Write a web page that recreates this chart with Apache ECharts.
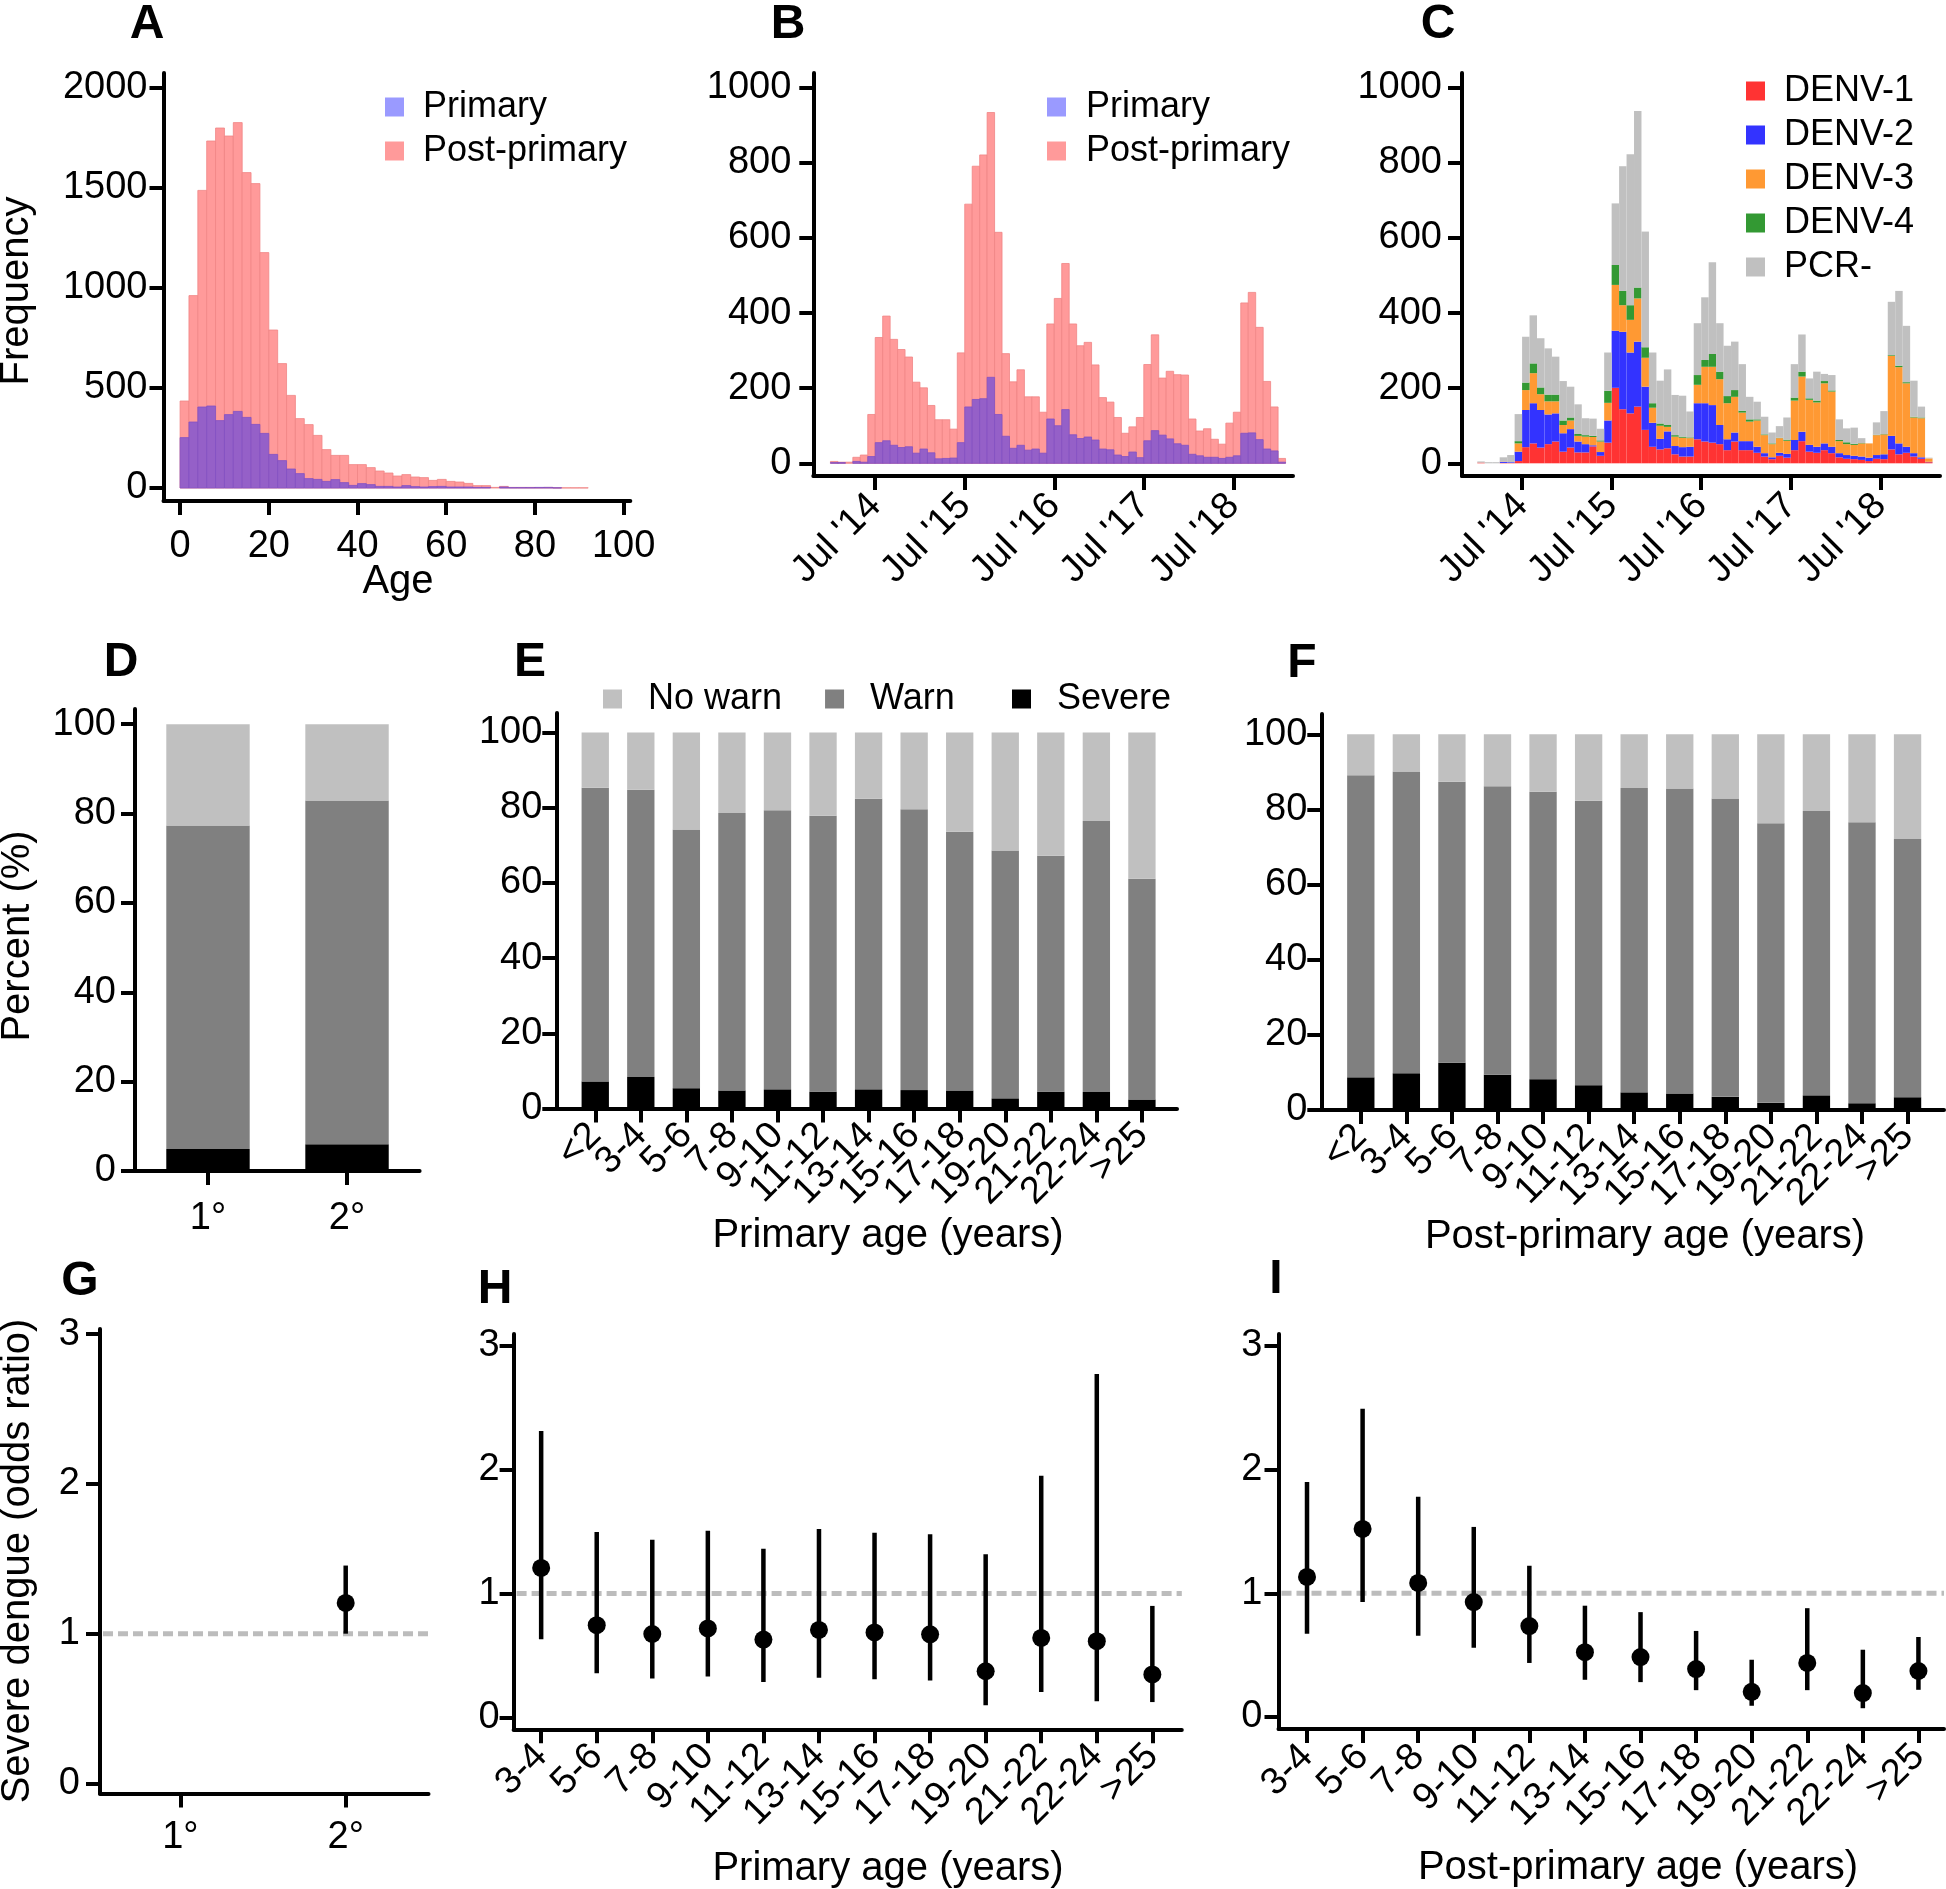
<!DOCTYPE html>
<html><head><meta charset="utf-8">
<script src="https://cdn.jsdelivr.net/npm/echarts@6/dist/echarts.min.js"></script>
<style>html,body{margin:0;padding:0;background:#fff}#c{width:1946px;height:1889px}</style>
</head><body><div id="c"></div>
<script>
// ---------- DATA ----------
// Panel A: age histogram (2-year bins)
const ageBins = [0,2,4,6,8,10,12,14,16,18,20,22,24,26,28,30,32,34,36,38,40,42,44,46,48,50,52,54,56,58,60,62,64,66,68,70,72,74,76,78,80,82,84,86,88,90];
const AGE_BIN = 2;
const agePost = [435,962,1488,1735,1800,1760,1827,1577,1522,1177,790,622,463,347,317,263,192,163,163,117,117,102,85,75,60,67,55,52,38,43,33,30,23,12,12,3,8,3,3,3,2,3,1,1,1,1];
const agePrim = [252,330,405,410,337,367,383,353,318,273,168,137,95,72,47,43,33,42,27,13,22,17,8,8,5,12,7,5,7,8,5,5,5,3,3,0,5,2,2,2,3,3,1,0,0,0];
const ageTicks = [0,20,40,60,80,100];
const freqTicks = [0,500,1000,1500,2000];

// Panels B & C: monthly counts
const months = ['2014-01','2014-02','2014-03','2014-04','2014-05','2014-06','2014-07','2014-08','2014-09','2014-10','2014-11','2014-12',
 '2015-01','2015-02','2015-03','2015-04','2015-05','2015-06','2015-07','2015-08','2015-09','2015-10','2015-11','2015-12',
 '2016-01','2016-02','2016-03','2016-04','2016-05','2016-06','2016-07','2016-08','2016-09','2016-10','2016-11','2016-12',
 '2017-01','2017-02','2017-03','2017-04','2017-05','2017-06','2017-07','2017-08','2017-09','2017-10','2017-11','2017-12',
 '2018-01','2018-02','2018-03','2018-04','2018-05','2018-06','2018-07','2018-08','2018-09','2018-10','2018-11','2018-12','2019-01'];
const monthPost = [5,3,3,16,22,130,335,392,330,303,283,216,201,154,116,116,91,294,690,791,821,934,615,292,217,249,177,177,136,371,439,532,371,313,322,262,175,163,122,80,97,122,263,342,227,245,236,235,118,86,92,64,51,107,136,427,455,362,218,150,13];
const monthPrim = [2,2,0,5,3,18,55,60,48,42,44,27,38,28,12,13,14,55,150,170,172,229,130,72,40,48,35,38,27,118,100,143,76,66,70,62,38,36,22,18,30,15,60,87,75,65,52,48,24,20,16,16,13,16,20,80,81,63,38,33,3];
const denv1 = [2,0,0,1,1,6,43,53,42,51,58,31,42,29,29,45,20,55,201,144,133,151,89,44,37,40,24,18,18,64,58,55,51,35,58,35,35,28,18,11,20,15,35,59,31,28,35,27,16,12,11,9,6,12,11,37,24,28,18,12,3];
const denv2 = [0,0,0,3,2,25,99,107,100,79,75,49,49,29,22,3,10,59,152,206,162,173,115,64,28,45,22,25,26,96,102,100,51,29,24,24,24,16,9,5,8,10,27,25,18,16,18,17,11,10,9,9,9,10,13,36,29,16,9,4,1];
const denv3 = [0,0,0,1,0,22,53,80,42,35,32,22,23,15,20,22,28,47,122,71,87,115,77,40,35,12,25,25,23,49,97,102,122,96,95,76,52,70,48,35,39,35,105,147,120,118,160,147,32,29,29,35,38,53,53,213,203,169,95,104,9];
const denv4 = [0,0,0,0,0,6,20,26,18,18,18,12,8,5,4,3,3,32,53,38,39,29,28,12,6,5,4,3,2,26,18,34,20,19,18,5,6,3,2,2,1,3,8,13,4,5,6,3,3,5,3,1,0,1,1,2,4,3,2,2,0];
const pcrNeg = [3,3,3,11,19,72,122,128,131,123,101,105,82,79,45,46,31,102,164,332,402,470,308,135,114,148,107,109,69,138,167,244,129,134,129,124,60,47,47,29,31,59,89,99,53,77,19,41,55,37,43,13,0,33,61,142,199,150,96,29,2];
const monthTicks = [6,18,30,42,54];
const monthTickLabels = ["Jul '14","Jul '15","Jul '16","Jul '17","Jul '18"];
const countTicks = [0,200,400,600,800,1000];

// Panel D
const dCats = ['1°','2°'];
const dSevere = [4.9,6.0];
const dWarn = [72.4,76.9];
const dNoWarn = [22.7,17.1];
// Panel E (primary by age)
const ageCats = ['<2','3-4','5-6','7-8','9-10','11-12','13-14','15-16','17-18','19-20','21-22','22-24','>25'];
const eSevere = [7.2,8.4,5.4,4.8,5.1,4.5,5.1,4.9,4.8,2.7,4.5,4.4,2.4];
const eWarn = [78.1,76.4,68.8,73.8,74.2,73.4,77.3,74.7,68.8,65.9,62.7,72.1,58.7];
const eNoWarn = [14.7,15.2,25.8,21.4,20.7,22.1,17.6,20.4,26.4,31.4,32.8,23.5,38.9];
// Panel F (post-primary by age)
const fSevere = [8.7,9.8,12.6,9.4,8.2,6.6,4.7,4.4,3.5,1.9,3.9,1.8,3.4];
const fWarn = [80.4,80.3,74.8,76.8,76.5,75.7,81.0,81.2,79.4,74.4,75.7,74.8,68.7];
const fNoWarn = [10.9,9.9,12.6,13.8,15.3,17.7,14.3,14.4,17.1,23.7,20.4,23.4,27.9];
const pctTicks = [0,20,40,60,80,100];

// Panel G
const gOR = [null,1.205];
const gLo = [null,1.0];
const gHi = [null,1.455];
// Panels H & I
const orCats = ['3-4','5-6','7-8','9-10','11-12','13-14','15-16','17-18','19-20','21-22','22-24','>25'];
const hOR = [1.207,0.744,0.673,0.718,0.628,0.706,0.686,0.670,0.372,0.641,0.615,0.346];
const hLo = [0.631,0.356,0.314,0.330,0.285,0.320,0.307,0.298,0.097,0.204,0.129,0.123];
const hHi = [2.314,1.498,1.434,1.508,1.362,1.521,1.492,1.479,1.317,1.951,2.773,0.900];
const iOR = [1.133,1.521,1.084,0.929,0.735,0.524,0.485,0.388,0.204,0.437,0.194,0.372];
const iLo = [0.673,0.929,0.657,0.560,0.437,0.301,0.282,0.217,0.091,0.217,0.071,0.220];
const iHi = [1.900,2.492,1.780,1.537,1.223,0.900,0.848,0.696,0.463,0.880,0.544,0.647];
const orTicks = [0,1,2,3];
const REF_OR = 1;

// ---------- STYLE ----------
const FONT = '"Liberation Sans", Arial, Helvetica, sans-serif';
const AXW = 4;
const TICK_FS = 38;
const C = {pink:'#ff9a9a', pinkEdge:'#f08585', purple:'#9560c8', purpleEdge:'#8350c4', lblue:'#9a9aff',
  d1:'#ff3333', d2:'#3333ff', d3:'#ff9933', d4:'#339933', pcr:'#c0c0c0',
  nowarn:'#c0c0c0', warn:'#808080', severe:'#000000'};
const BAR_W = 0.6;

function xAx(grid, min, max, ticks, fmt, margin, rotate, labelVals) {
  return {type:'value', gridIndex:grid, min, max, position:'bottom',
    axisLine:{show:true, onZero:false, lineStyle:{color:'#000', width:AXW}},
    axisTick:{show:true, customValues:ticks, length:14, lineStyle:{color:'#000', width:AXW}},
    axisLabel:{show:true, customValues:labelVals||ticks, formatter:fmt, fontSize:TICK_FS, fontFamily:FONT, color:'#000', margin:margin, rotate:rotate||0,
      showMinLabel:true, showMaxLabel:true, hideOverlap:false},
    splitLine:{show:false}};
}
// label-only companion axis (same grid, same scale), used so crowded rotated labels are not auto-hidden
function xLabelAx(grid, min, max, labelVals, fmt, margin, rotate) {
  return {type:'value', gridIndex:grid, min, max, position:'bottom', offset:0,
    axisLine:{show:false, onZero:false}, axisTick:{show:false},
    axisLabel:{show:true, customValues:labelVals, formatter:fmt, fontSize:TICK_FS, fontFamily:FONT, color:'#000', margin:margin, rotate:rotate||0,
      showMinLabel:true, showMaxLabel:true, hideOverlap:false},
    splitLine:{show:false}};
}
function yAx(grid, min, max, ticks, margin) {
  return {type:'value', gridIndex:grid, min, max,
    axisLine:{show:true, onZero:false, lineStyle:{color:'#000', width:AXW}},
    axisTick:{show:true, customValues:ticks, length:14, lineStyle:{color:'#000', width:AXW}},
    axisLabel:{show:true, customValues:ticks, formatter:v=>String(v), fontSize:TICK_FS, fontFamily:FONT, color:'#000', margin:margin,
      showMinLabel:true, showMaxLabel:true},
    splitLine:{show:false}};
}
function rectRender(fill, stroke) {
  return function (params, api) {
    const x0 = api.value(0), x1 = api.value(1), y0 = api.value(2), y1 = api.value(3);
    if (!(y1 > y0)) return null;
    const a = api.coord([x0, y1]), b = api.coord([x1, y0]);
    return {type:'rect', shape:{x:a[0], y:a[1], width:b[0]-a[0], height:b[1]-a[1]},
      style:{fill:fill, stroke:stroke||null, lineWidth:stroke?0.8:0}};
  };
}
function rectSeries(name, grid, data, fill, stroke, legendColor) {
  return {type:'custom', name, coordinateSystem:'cartesian2d', xAxisIndex:grid, yAxisIndex:grid,
    itemStyle:{color:legendColor||fill}, renderItem:rectRender(fill, stroke), data, silent:true};
}
function errRender(params, api) {
  const x = api.value(0), m = api.value(1), lo = api.value(2), hi = api.value(3);
  const p = api.coord([x, m]), a = api.coord([x, lo]), b = api.coord([x, hi]);
  return {type:'group', children:[
    {type:'line', shape:{x1:a[0], y1:a[1], x2:b[0], y2:b[1]}, style:{stroke:'#000', lineWidth:4.5}},
    {type:'circle', shape:{cx:p[0], cy:p[1], r:9}, style:{fill:'#000'}}]};
}
function refRender(params, api) {
  const y = api.coord([0, api.value(0)])[1];
  const cs = params.coordSys;
  return {type:'line', shape:{x1:cs.x + 3, y1:y, x2:cs.x + cs.width, y2:y},
    style:{stroke:'#bcbcbc', lineWidth:5, lineDash:[10,5]}};
}
function errSeries(grid, cats, or, lo, hi) {
  const data = [];
  cats.forEach((c, i) => { if (or[i] != null) data.push([i, or[i], lo[i], hi[i]]); });
  return [
    {type:'custom', name:'ref'+grid, coordinateSystem:'cartesian2d', xAxisIndex:grid, yAxisIndex:grid, renderItem:refRender, data:[[REF_OR]], silent:true},
    {type:'custom', name:'or'+grid, coordinateSystem:'cartesian2d', xAxisIndex:grid, yAxisIndex:grid, renderItem:errRender, data, silent:true}
  ];
}
function stackSeries(grid, cats, severe, warn, nowarn) {
  const s = [], w = [], n = [];
  cats.forEach((c, i) => {
    const a = severe[i], b = a + warn[i], t = b + nowarn[i];
    s.push([i - BAR_W/2, i + BAR_W/2, 0, a]);
    w.push([i - BAR_W/2, i + BAR_W/2, a, b]);
    n.push([i - BAR_W/2, i + BAR_W/2, b, t]);
  });
  return [rectSeries('Severe', grid, s, C.severe), rectSeries('Warn', grid, w, C.warn), rectSeries('No warn', grid, n, C.nowarn)];
}
function txt(s, x, y, size, bold, rot) {
  return {type:'text', x, y, rotation:rot||0, silent:true,
    style:{text:s, font:(bold?'bold ':'')+size+'px '+FONT, fill:'#000', align:'center', verticalAlign:'middle', textAlign:'center', textVerticalAlign:'middle'}};
}
function legend(names, colors, left, top, orient, gap, pad) {
  return {data:names.map((n,i)=>({name:n, itemStyle:{color:colors[i]}})), left, top, orient, padding:0,
    itemWidth:19, itemHeight:19, itemGap:gap, icon:'rect', selectedMode:false,
    textStyle:{fontSize:36, fontFamily:FONT, color:'#000', padding:[0,0,0,pad]}};
}

// ---------- BUILD ----------
const monthFmt = v => { const k = monthTicks.indexOf(v); return k >= 0 ? monthTickLabels[k] : ''; };
const catFmt = cats => v => cats[Math.round(v)] || '';
const idx = cats => cats.map((c, i) => i);
const evenIdx = cats => idx(cats).filter(i => i % 2 === 0);
const oddIdx = cats => idx(cats).filter(i => i % 2 === 1);

// C stacks
const cStacks = [[denv1,'DENV-1',C.d1],[denv2,'DENV-2',C.d2],[denv3,'DENV-3',C.d3],[denv4,'DENV-4',C.d4],[pcrNeg,'PCR-',C.pcr]];
const base = months.map(() => 0);
const cSeries = cStacks.map(([arr, name, col]) => {
  const data = months.map((m, i) => { const d = [i, i+1, base[i], base[i] + arr[i]]; base[i] += arr[i]; return d; });
  return rectSeries(name, 2, data, col);
});

const grids = [
  {left:163.5, top:73, width:466.8, height:428},   // A
  {left:813.3, top:73, width:479.7, height:403},   // B
  {left:1462, top:73, width:478, height:403},      // C
  {left:135, top:709, width:284.6, height:462},    // D
  {left:556.3, top:713, width:620.7, height:395.5},// E
  {left:1321.3, top:714, width:622.7, height:396}, // F
  {left:100, top:1329, width:328.5, height:464.5}, // G
  {left:513.6, top:1334, width:668.2, height:395.3},// H
  {left:1278.5, top:1334, width:665.5, height:395}  // I
].map(g => Object.assign(g, {containLabel:false, outerBoundsMode:'none'}));

const option = {
  animation:false,
  backgroundColor:'#fff',
  grid:grids,
  xAxis:[
    xAx(0, -3.74, 101.5, ageTicks, v=>String(v), 27),
    xAx(1, -2.3, 62.0, monthTicks, monthFmt, 24, 45),
    xAx(2, -2.05, 62.0, monthTicks, monthFmt, 24, 45),
    xAx(3, -0.525, 1.522, idx(dCats), catFmt(dCats), 29),
    xAx(4, -0.855, 12.77, idx(ageCats), catFmt(ageCats), 21, 45, evenIdx(ageCats)),
    xAx(5, -0.867, 12.8, idx(ageCats), catFmt(ageCats), 21, 45, evenIdx(ageCats)),
    xAx(6, -0.4855, 1.5006, idx(dCats), catFmt(dCats), 25),
    xAx(7, -0.496, 11.53, idx(orCats), catFmt(orCats), 21, 45),
    xAx(8, -0.513, 11.46, idx(orCats), catFmt(orCats), 22, 45),
    xLabelAx(4, -0.855, 12.77, oddIdx(ageCats), catFmt(ageCats), 21, 45),
    xLabelAx(5, -0.867, 12.8, oddIdx(ageCats), catFmt(ageCats), 21, 45)
  ],
  yAxis:[
    yAx(0, -65, 2075, freqTicks, 16),
    yAx(1, -33.8, 1039.2, countTicks, 22),
    yAx(2, -33.8, 1039.2, countTicks, 20),
    yAx(3, 0, 103.4, pctTicks, 19),
    yAx(4, 0, 105.2, pctTicks, 14),
    yAx(5, 0, 105.4, pctTicks, 14),
    yAx(6, -0.0675, 3.035, orTicks, 20),
    yAx(7, -0.097, 3.097, orTicks, 14),
    yAx(8, -0.097, 3.097, orTicks, 16)
  ],
  legend:[
    legend(['Primary','Post-primary'], [C.lblue, C.pink], 385, 89, 'vertical', 8, 14),
    legend(['Primary','Post-primary'], [C.lblue, C.pink], 1047, 89, 'vertical', 8, 15),
    legend(['DENV-1','DENV-2','DENV-3','DENV-4','PCR-'], [C.d1,C.d2,C.d3,C.d4,C.pcr], 1746, 73, 'vertical', 8, 14),
    legend(['No warn','Warn'], [C.nowarn, C.warn], 603, 681, 'horizontal', 43, 21),
    legend(['Severe'], [C.severe], 1012, 681, 'horizontal', 43, 21)
  ],
  series:[
    rectSeries('Post-primary', 0, ageBins.map((a,i)=>[a, a+AGE_BIN, 0, agePost[i]]), C.pink, C.pinkEdge),
    rectSeries('Primary', 0, ageBins.map((a,i)=>[a, a+AGE_BIN, 0, agePrim[i]]), C.purple, C.purpleEdge, C.lblue),
    rectSeries('Post-primary', 1, months.map((m,i)=>[i, i+1, 0, monthPost[i]]), C.pink, C.pinkEdge),
    rectSeries('Primary', 1, months.map((m,i)=>[i, i+1, 0, monthPrim[i]]), C.purple, C.purpleEdge, C.lblue),
    ...cSeries,
    ...stackSeries(3, dCats, dSevere, dWarn, dNoWarn),
    ...stackSeries(4, ageCats, eSevere, eWarn, eNoWarn),
    ...stackSeries(5, ageCats, fSevere, fWarn, fNoWarn),
    ...errSeries(6, dCats, gOR, gLo, gHi),
    ...errSeries(7, orCats, hOR, hLo, hHi),
    ...errSeries(8, orCats, iOR, iLo, iHi)
  ],
  graphic:[
    txt('A', 147, 25, 48, true), txt('B', 788, 25, 48, true), txt('C', 1438, 25, 48, true),
    txt('D', 121, 663, 48, true), txt('E', 530, 663, 48, true), txt('F', 1302, 664, 48, true),
    txt('G', 80, 1282, 48, true), txt('H', 495, 1290, 48, true), txt('I', 1276, 1280, 48, true),
    txt('Frequency', 17, 291, 40, false, Math.PI/2),
    txt('Age', 398, 582, 40, false),
    txt('Percent (%)', 18, 936, 40, false, Math.PI/2),
    txt('Primary age (years)', 888, 1236, 40, false),
    txt('Post-primary age (years)', 1645, 1237, 40, false),
    txt('Severe dengue (odds ratio)', 18, 1561, 40, false, Math.PI/2),
    txt('Primary age (years)', 888, 1869, 40, false),
    txt('Post-primary age (years)', 1638, 1868, 40, false)
  ]
};
const chart = echarts.init(document.getElementById('c'), null, {renderer:'canvas'});
chart.setOption(option);
</script>
</body></html>
